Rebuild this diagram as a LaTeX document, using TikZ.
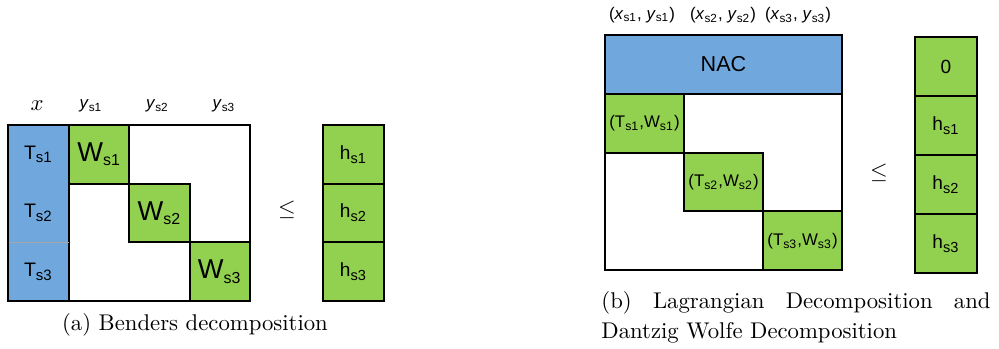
\documentclass[tikz,border=0pt]{standalone}
\usepackage{fontspec}
\setsansfont{Liberation Sans}
\usepackage{amsmath}
\usepackage{tikz}
\usetikzlibrary{positioning, calc}
\definecolor{pastelblue}{rgb}{0.44, 0.66, 0.87}
\definecolor{pastelgreen}{rgb}{0.57, 0.82, 0.31}
\newcommand{\sbs}[2]{\textsubscript{\fontsize{#1}{#1}\selectfont #2}}
\tikzset{
  blk/.style={draw=black, line width=0.9pt},
  lbl/.style={draw=none, text=black, inner sep=0pt, font=\sffamily\fontsize{7.4}{8}\selectfont},
  tlbl/.style={lbl, font=\sffamily\fontsize{8.6}{10}\selectfont},
  hlbl/.style={lbl, font=\sffamily\fontsize{8.4}{10}\selectfont},
  biglbl/.style={lbl, font=\sffamily\fontsize{12}{14}\selectfont},
  naclbl/.style={lbl, font=\sffamily\fontsize{9.5}{11}\selectfont},
  twlbl/.style={lbl, font=\sffamily\fontsize{7.4}{9}\selectfont},
  captxt/.style={draw=none, text=black, inner sep=0pt, font=\fontsize{10}{13.2}\selectfont}
}

\begin{document}
\begin{tikzpicture}[x=0.44pt, y=-0.44pt]
\useasboundingbox (0,0) rectangle (999,348);
\pgfmathsetmacro{\cellw}{60.33}
\pgfmathsetmacro{\cellh}{58.67}

% (a) Benders
\draw[blk,fill=white] (69,125) rectangle (250,301);
\foreach \i/\n in {0/1,1/2,2/3}{
  \draw[blk,fill=pastelgreen] (69+\i*\cellw,125+\i*\cellh) rectangle ++(\cellw,\cellh);
  \node[biglbl] (Ws\n) at (69+\i*\cellw+0.5*\cellw,125+\i*\cellh+0.5*\cellh) {W\sbs{7}{s\n}};
}
\draw[blk,fill=pastelblue] (8,125) rectangle (69,301);
\draw[gray!70,line width=0.4pt] (8.5,125+2*\cellh) -- (68.5,125+2*\cellh);
\foreach \i/\n in {0/1,1/2,2/3}{
  \node[tlbl] (Ts\n) at (38.5,125+\i*\cellh+0.5*\cellh) {T\sbs{6.6}{s\n}};
}
\node[draw=none, inner sep=0pt] (xa) at (37,106) {$x$};
\foreach \i/\n in {0/1,1/2,2/3}{
  \node[lbl] (ya\n) at (91+\i*66.5,106) {\textit{y}\textsubscript{s\n}};
}
\node[draw=none, inner sep=0pt] (leqa) at (287,210) {$\leq$};
\foreach \i/\n in {0/1,1/2,2/3}{
  \draw[blk,fill=pastelgreen] (323,125+\i*\cellh) rectangle ++(61,\cellh);
  \node[hlbl] (ha\n) at (353.5,125+\i*\cellh+0.5*\cellh) {h\sbs{6.4}{s\n}};
}
\node[captxt] (capa) at (195,325) {(a) Benders decomposition};

% (b) Lagrangian / Dantzig Wolfe
\draw[blk,fill=pastelblue] (605,35) rectangle (842,94);
\node[naclbl] (nac) at (723.5,64.5) {NAC};
\draw[blk,fill=white] (605,94) rectangle (842,270);
\foreach \i/\n in {0/1,1/2,2/3}{
  \draw[blk,fill=pastelgreen] (605+\i*79,94+\i*\cellh) rectangle ++(79,\cellh);
  \node[twlbl] (TW\n) at (605+\i*79+39.5,94+\i*\cellh+0.5*\cellh) {(T\sbs{5.4}{s\n},W\sbs{5.4}{s\n})};
}
\foreach \x/\n in {642/1,723/2,798/3}{
  \node[lbl] (xy\n) at (\x,15) {(\textit{x}\textsubscript{s\n}, \textit{y}\textsubscript{s\n})};
}
\node[draw=none, inner sep=0pt] (leqb) at (879,173) {$\leq$};
\foreach \i/\t in {0/0,1/h\sbs{6.4}{s1},2/h\sbs{6.4}{s2},3/h\sbs{6.4}{s3}}{
  \draw[blk,fill=pastelgreen] (915,37+\i*59) rectangle ++(62,59);
  \node[hlbl] (hb\i) at (946,37+\i*59+29.5) {\t};
}
\node[captxt, anchor=west, text width=171.2pt, align=justify] (capb) at (601,317)
  {(b) Lagrangian Decomposition and \mbox{Dantzig} Wolfe Decomposition};

\end{tikzpicture}
\end{document}
